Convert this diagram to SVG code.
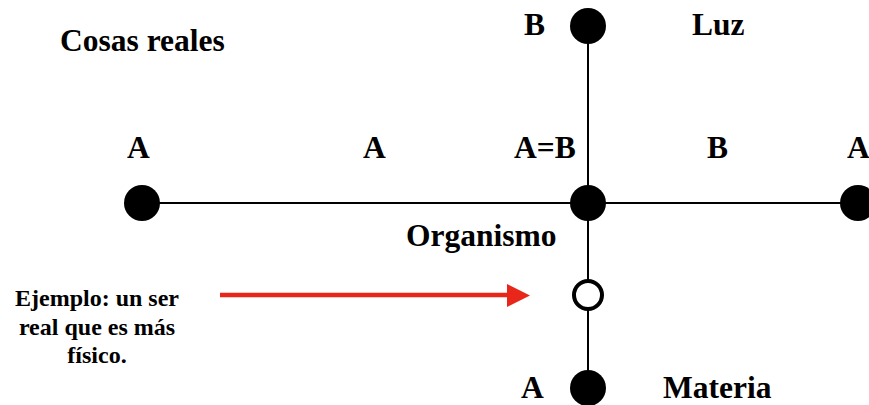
<svg xmlns="http://www.w3.org/2000/svg" width="869" height="405" viewBox="0 0 869 405">
<defs>
<style>
.t{font-family:"Liberation Serif","Times New Roman",serif;font-weight:bold;fill:#000}
.big{font-size:31.5px}
.small{font-size:24px}
.line{stroke:#000;stroke-width:2;fill:none}
.dot{fill:#000}
</style>
</defs>
<rect width="869" height="405" fill="#fff"/>
<g id="connectors">
<line class="line" x1="142" y1="203" x2="858" y2="203"/>
<line class="line" x1="588" y1="26" x2="588" y2="388"/>
<line x1="220" y1="295" x2="510" y2="295" stroke="#e8261a" stroke-width="4.5"/>
<path d="M507,284 L530,295.5 L507,307 Z" fill="#e8261a"/>
</g>
<g id="node-top"><circle class="dot" cx="588" cy="26" r="18"/></g>
<g id="node-center"><circle class="dot" cx="588" cy="203" r="18"/></g>
<g id="node-left"><circle class="dot" cx="142" cy="203" r="18"/></g>
<g id="node-right"><circle class="dot" cx="858" cy="203" r="18"/></g>
<g id="node-hollow"><circle cx="588" cy="295" r="14" fill="#fff" stroke="#000" stroke-width="4"/></g>
<g id="node-bottom"><circle class="dot" cx="588" cy="388" r="18"/></g>
<g id="labels">
<text class="t big" x="60" y="51">Cosas reales</text>
<text class="t big" x="524" y="35">B</text>
<text class="t big" x="692" y="35">Luz</text>
<text class="t big" x="127" y="158">A</text>
<text class="t big" x="363" y="158">A</text>
<text class="t big" x="514" y="158">A=B</text>
<text class="t big" x="707" y="158">B</text>
<text class="t big" x="847" y="158">A</text>
<text class="t big" x="406" y="246">Organismo</text>
<text class="t small" x="97" y="306" text-anchor="middle">Ejemplo: un ser</text>
<text class="t small" x="97" y="335" text-anchor="middle">real que es más</text>
<text class="t small" x="97" y="363" text-anchor="middle">físico.</text>
<text class="t big" x="521" y="398">A</text>
<text class="t big" x="663" y="398">Materia</text>
</g>
</svg>
